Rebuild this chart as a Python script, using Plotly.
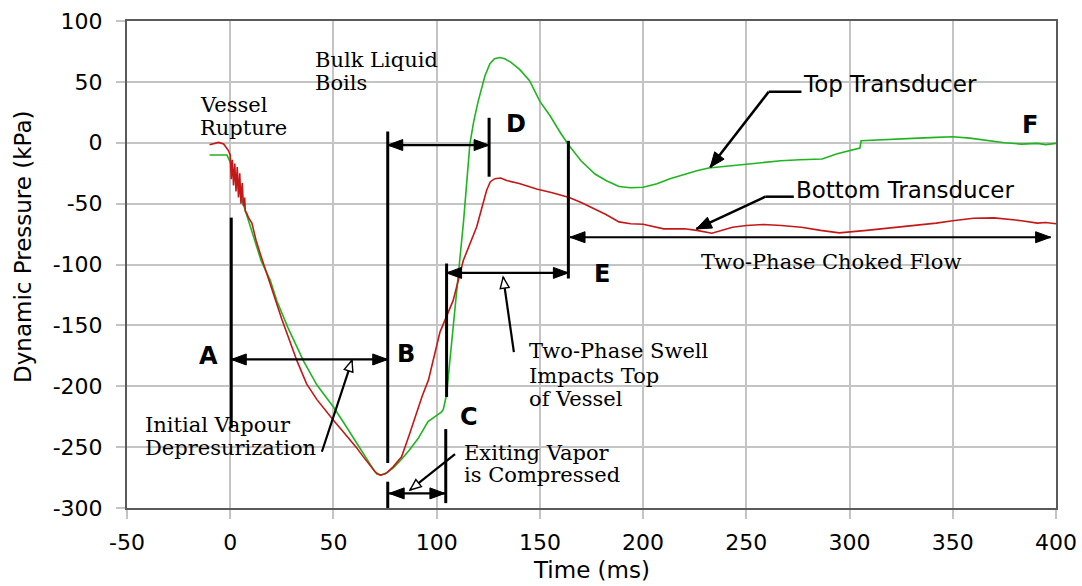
import math
import plotly.graph_objects as go

# ---------------- data ----------------
top_time = [-10, -1.6, 0, 2, 4, 7.3, 10, 15, 19.4, 22.6, 28, 35.4, 42, 50, 55, 61.3, 67, 70, 72.6, 75,
            79, 83, 87, 91, 95.8, 100, 102.4, 103.2, 104.8, 106.4, 108, 109.7, 111.3, 113, 116.1, 118,
            120.1, 123.4, 125.8, 128, 130.6, 133, 136, 140.3, 145, 150, 155, 160, 164.2, 170, 176.7,
            182, 188.3, 194, 200, 206.7, 213, 220, 226, 231.7, 236, 241.7, 250, 258, 266.7, 276,
            286.7, 294, 300, 305, 305.6, 315, 325, 333.3, 342, 350, 358.3, 367, 375, 383.3, 391, 395, 400]
top_kpa = [-10, -10, -16, -25, -38, -56, -71, -97, -113, -130, -152, -179, -199, -217, -230, -247, -262,
           -270, -273, -272, -267, -260, -252, -243, -229, -224, -221, -219, -207, -179, -151, -124, -97,
           -65, -1, 18, 34, 55, 65, 69, 70, 69, 66, 60, 51, 34, 22, 8, -2.5, -15, -25.7, -31, -36, -37,
           -36.6, -33.7, -29.5, -25.7, -23, -20.8, -20, -19, -17.5, -16, -14.8, -14, -13.4, -9, -6.6,
           -4.4, 1.6, 2.5, 3.2, 3.8, 4.4, 4.9, 3.8, 2, 0, -1.1, -0.5, -1.5, -0.5]

bottom_time = [-10, -5.6, -3.2, -0.8, 0, 0.5, 1, 1.6, 2.2, 2.8, 3.4, 4, 4.6, 5.2, 5.8, 6.4, 7, 7.3, 8, 9,
               10.5, 12.5, 14.5, 17, 19.4, 25, 32.3, 37, 42, 46, 50, 54, 58, 61, 64.5, 68, 71, 73, 76,
               79, 83, 86.5, 90.3, 93, 96, 101.6, 108, 112.9, 119.4, 124.2, 126, 128.2, 131, 133.9, 140,
               148.4, 156, 164.2, 170, 175, 182, 188.3, 194, 200, 205, 210, 220, 226, 233.3, 238, 243.3,
               250, 258.3, 267, 276.7, 286, 295, 308.3, 320, 333.3, 342, 350, 360, 370, 383.3, 391, 395, 400]
bottom_kpa = [-1.6, 0.3, -1, -6.6, -10, -30, -14, -35, -17, -40, -20, -45, -25, -50, -33, -52, -45, -56,
              -58, -62, -66, -80, -91, -104, -116, -145, -179, -198, -211, -220, -228, -236, -244, -250,
              -258, -266, -272, -273, -271, -266, -258, -241, -222, -208, -195, -155.5, -129.5, -96.7,
              -69, -39, -32, -29.5, -29, -31, -33.5, -38, -41, -45, -49, -53, -59, -65, -66.5, -67, -69,
              -70.7, -70.7, -72, -74.3, -72, -69.4, -68, -67.2, -68, -69.4, -72, -74, -72, -70, -68, -66,
              -64, -62, -61.7, -64, -66, -65.5, -66.5]

x_tick_vals = [-50, 0, 50, 100, 150, 200, 250, 300, 350, 400]
x_tick_text = ["-50", "0", "50", "100", "150", "200", "250", "300", "350", "400"]
y_tick_vals = [-300, -250, -200, -150, -100, -50, 0, 50, 100]
y_tick_text = ["-300", "-250", "-200", "-150", "-100", "-50", "0", "50", "100"]

# ---------------- layout geometry ----------------
W, H = 1082, 586
ML, MR, MT, MB = 127, 26, 21, 78
XR = (-50, 400)
YR = (-300, 100)
PW, PH = W - ML - MR, H - MT - MB
SX = PW / (XR[1] - XR[0])
SY = PH / (YR[1] - YR[0])

SERIF = "DejaVu Serif, Liberation Serif, serif"
SANS = "DejaVu Sans, Arial, sans-serif"

fig = go.Figure()
fig.add_trace(go.Scatter(x=top_time, y=top_kpa, mode="lines", name="Top Transducer",
                         line=dict(color="#1fb51f", width=1.6)))
fig.add_trace(go.Scatter(x=bottom_time, y=bottom_kpa, mode="lines", name="Bottom Transducer",
                         line=dict(color="#c41818", width=1.6)))

shapes = []


def seg(x0, y0, x1, y1, w=2.5):
    shapes.append(dict(type="line", xref="x", yref="y", x0=x0, y0=y0, x1=x1, y1=y1,
                       line=dict(color="black", width=w)))


def head(xt, yt, xf, yf, L=15, Wd=5.5, hollow=False):
    dx = (xt - xf) * SX
    dy = (yt - yf) * SY
    n = math.hypot(dx, dy)
    ux, uy = dx / n, dy / n
    bx, by = -L * ux, -L * uy
    nx, ny = -uy * Wd, ux * Wd
    path = f"M0,0 L{bx + nx:.2f},{by + ny:.2f} L{bx - nx:.2f},{by - ny:.2f} Z"
    shapes.append(dict(type="path", xref="x", yref="y", xsizemode="pixel", ysizemode="pixel",
                       xanchor=xt, yanchor=yt, path=path,
                       fillcolor="white" if hollow else "black",
                       line=dict(color="black", width=1.4 if hollow else 1)))


# vertical marker lines (x, y0, y1)
v_lines = [(0.5, -61.5, -234.4), (76.3, 9.3, -263), (76.3, -278.4, -300),
           (104.8, -99.2, -208.8), (104.4, -235.2, -296), (125.4, 20.5, -27.9),
           (163.8, 1.6, -111.5)]
for x, y0, y1 in v_lines:
    seg(x, y0, x, y1, 3)

# double headed horizontal arrows (x0, x1, y)
d_arrows = [(0.5, 76.3, -178), (76.3, 125.4, -1.9), (104.8, 163.8, -106.9),
            (77.0, 104.0, -288), (164.6, 397.4, -77.6)]
for x0, x1, y in d_arrows:
    seg(x0, y, x1, y, 2.2)
    head(x0, y, x1, y)
    head(x1, y, x0, y)

# pointer arrows with hollow heads (tail x, tail y, tip x, tip y)
p_arrows = [(44.4, -253.8, 59.0, -178.7), (108.9, -255.7, 87.1, -285.2),
            (137.4, -171.9, 132.2, -110.4)]
for xa, ya, xb, yb in p_arrows:
    seg(xa, ya, xb, yb, 2.2)
    head(xb, yb, xa, ya, L=11, Wd=4.5, hollow=True)

# elbow leader arrows: (end of horizontal, elbow x, elbow y, tip x, tip y)
e_arrows = [(276.7, 260.8, 41.8, 232.5, -20.2), (273.0, 259.2, -44.3, 225.8, -70.8)]
for xe, xk, yk, xt, yt in e_arrows:
    seg(xe, yk, xk, yk, 2.5)
    seg(xk, yk, xt, yt, 2.5)
    head(xt, yt, xk, yk, L=15, Wd=6)

annotations = []

serif_lines = [("Vessel", -15, 31.1), ("Rupture", -15, 12.1),
               ("Bulk Liquid", 40.4, 67.9), ("Boils", 40.4, 48.8),
               ("Initial Vapour", -41.6, -231.6), ("Depresurization", -41.6, -250.4),
               ("Exiting Vapor", 112.8, -254.5), ("is Compressed", 112.8, -272.5),
               ("Two-Phase Swell", 144.2, -171.1), ("Impacts Top", 144.2, -191.2),
               ("of Vessel", 144.2, -210.1)]
for t, x, y in serif_lines:
    annotations.append(dict(text=t, x=x, y=y, xref="x", yref="y", xanchor="left", yanchor="middle",
                            showarrow=False, borderpad=0, font=dict(family=SERIF, size=21, color="black")))
annotations.append(dict(text="Two-Phase Choked Flow", x=291.2, y=-98.0, xref="x", yref="y",
                        xanchor="center", yanchor="middle", showarrow=False, borderpad=0,
                        font=dict(family=SERIF, size=21, color="black")))

sans_labels = [("Top Transducer", 277.2, 48.0), ("Bottom Transducer", 273.6, -38.9)]
for t, x, y in sans_labels:
    annotations.append(dict(text=t, x=x, y=y, xref="x", yref="y", xanchor="left", yanchor="middle",
                            showarrow=False, borderpad=0, font=dict(family=SANS, size=23, color="black")))

letters = [("A", -10.4, -175.4), ("B", 85.1, -173.4), ("C", 115.6, -225), ("D", 138.5, 15.3),
           ("E", 180, -108.2), ("F", 387.5, 14.8)]
for t, x, y in letters:
    annotations.append(dict(text=f"<b>{t}</b>", x=x, y=y, xref="x", yref="y", xanchor="center",
                            yanchor="middle", showarrow=False, borderpad=0,
                            font=dict(family=SANS, size=24, color="black")))

# axis titles
annotations.append(dict(text="Time (ms)", x=0.5, y=-(570 - 508) / PH, xref="paper", yref="paper",
                        xanchor="center", yanchor="middle", showarrow=False,
                        font=dict(family=SANS, size=23, color="black")))
annotations.append(dict(text="Dynamic Pressure (kPa)", x=(23 - ML) / PW, y=(508 - 247) / PH,
                        xref="paper", yref="paper", xanchor="center", yanchor="middle",
                        textangle=-90, showarrow=False,
                        font=dict(family=SANS, size=23, color="black")))

axis_common = dict(showgrid=True, gridcolor="#c4c4c4", gridwidth=1.5, zeroline=False,
                   showline=True, linecolor="#5a5a5a", linewidth=2, mirror=True,
                   ticks="outside", ticklen=9, tickwidth=1.5, tickcolor="#c4c4c4",
                   automargin=False, tickmode="array",
                   tickfont=dict(family=SANS, size=22, color="black"))

fig.update_layout(
    width=W, height=H,
    margin=dict(l=ML, r=MR, t=MT, b=MB, pad=0, autoexpand=False),
    paper_bgcolor="white", plot_bgcolor="white",
    showlegend=False,
    xaxis=dict(range=list(XR), tickvals=x_tick_vals, ticktext=x_tick_text,
               ticklabelstandoff=5, **axis_common),
    yaxis=dict(range=list(YR), tickvals=y_tick_vals, ticktext=y_tick_text,
               ticklabelstandoff=9, **axis_common),
    shapes=shapes,
    annotations=annotations,
)

fig.write_html("out.html")
